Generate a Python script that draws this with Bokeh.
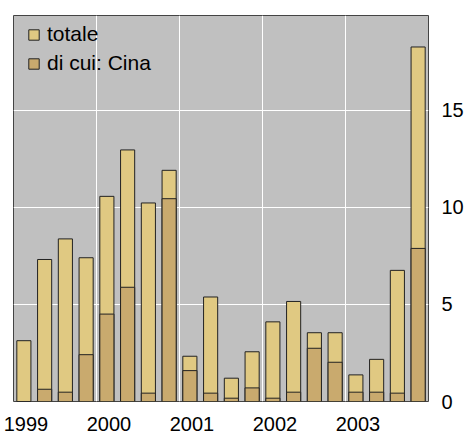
from bokeh.plotting import figure
from bokeh.models import FixedTicker, ColumnDataSource, Range1d
from bokeh.embed import file_html
from bokeh.resources import INLINE

years = ["1999", "2000", "2001", "2002", "2003"]
totale = [3.13, 7.31, 8.37, 7.40, 10.56, 12.95, 10.22, 11.90,
          2.33, 5.38, 1.20, 2.56, 4.10, 5.15, 3.54, 3.54,
          1.37, 2.17, 6.75, 18.25]
cina = [0.0, 0.63, 0.48, 2.41, 4.50, 5.88, 0.43, 10.44,
        1.59, 0.43, 0.17, 0.70, 0.17, 0.48, 2.74, 2.02,
        0.48, 0.48, 0.43, 7.88]
y_ticks = [0, 5, 10, 15]

xs = [i + 0.5 for i in range(len(totale))]
src = ColumnDataSource(dict(x=xs, totale=totale, cina=cina))

FONT = "Liberation Sans"

p = figure(frame_width=415, frame_height=386, output_backend="svg",
           toolbar_location=None, x_range=Range1d(0, 20), y_range=Range1d(0, 19.87),
           y_axis_location="right", min_border_left=13, min_border_top=15,
           min_border_right=0, min_border_bottom=0)
p.background_fill_color = "#c0c0c0"
p.border_fill_color = "white"
p.outline_line_color = "#444444"
p.outline_line_width = 1

p.vbar(x="x", top="totale", width=0.68, source=src, fill_color="#e0c982",
       line_color="#222222", line_width=1, legend_label="totale")
p.vbar(x="x", top="cina", width=0.68, source=src, fill_color="#c9aa6e",
       line_color="#222222", line_width=1, legend_label="di cui: Cina")

# grid
p.xgrid.ticker = FixedTicker(ticks=[4, 8, 12, 16])
p.ygrid.ticker = FixedTicker(ticks=[5, 10, 15])
for g in (p.xgrid[0], p.ygrid[0]):
    g.grid_line_color = "white"
    g.grid_line_width = 1
p.grid.level = "underlay"

# axes
p.xaxis.ticker = FixedTicker(ticks=[4 * i + 0.6 for i in range(len(years))])
p.xaxis.major_label_overrides = {4 * i + 0.6: y for i, y in enumerate(years)}
p.yaxis.ticker = FixedTicker(ticks=y_ticks)
for ax in (p.xaxis[0], p.yaxis[0]):
    ax.axis_line_color = None
    ax.major_tick_line_color = None
    ax.minor_tick_line_color = None
    ax.major_tick_out = 0
    ax.major_tick_in = 0
    ax.major_label_text_font = FONT
    ax.major_label_text_font_size = "20px"
    ax.major_label_text_color = "black"
p.xaxis.major_label_standoff = 15
p.yaxis.major_label_standoff = 13

lg = p.legend[0]
lg.location = (14, 326)
lg.background_fill_alpha = 0
lg.border_line_alpha = 0
lg.label_text_font = FONT
lg.label_text_font_size = "21px"
lg.label_text_color = "black"
lg.glyph_width = 13
lg.glyph_height = 13
lg.label_standoff = 7
lg.margin = 0
lg.padding = 0
lg.spacing = 5

open("out.html", "w").write(file_html(p, INLINE))
